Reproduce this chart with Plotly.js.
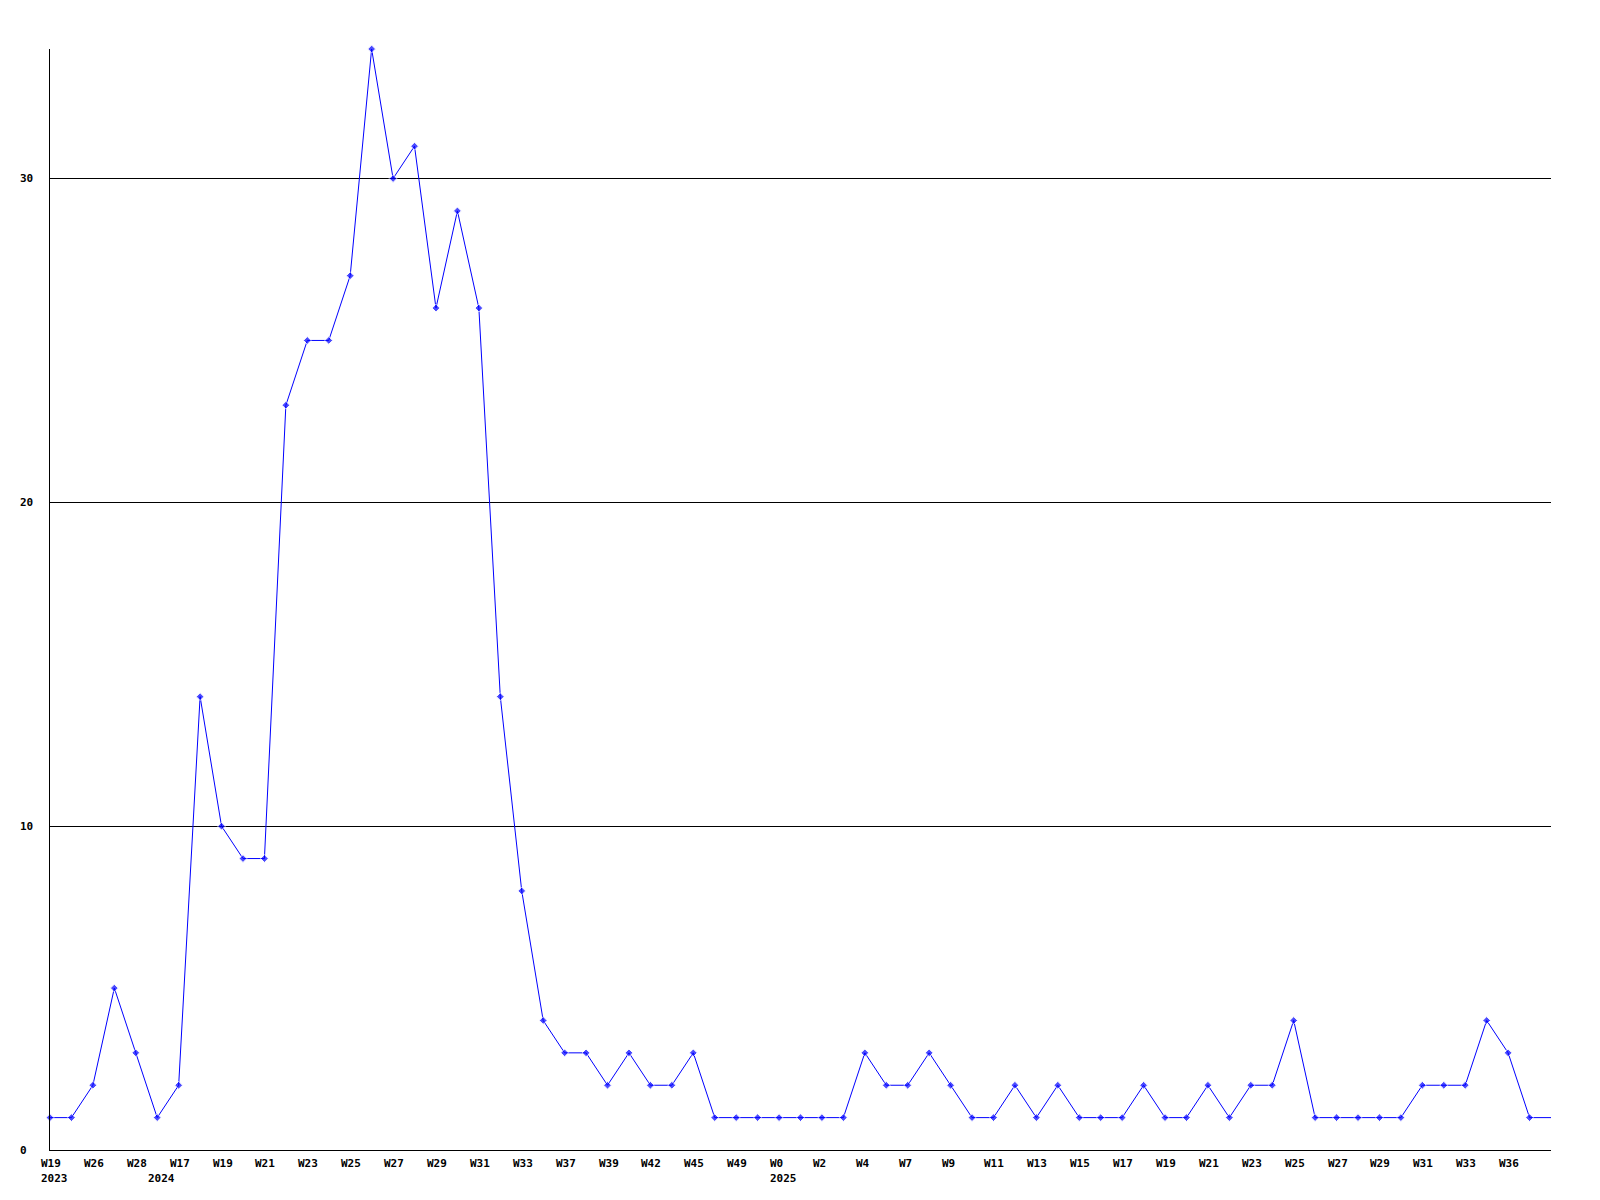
<!DOCTYPE html>
<html>
<head>
<meta charset="utf-8">
<script src="https://cdn.plot.ly/plotly-3.0.1.min.js"></script>
<style>
  html, body { margin: 0; padding: 0; background: #ffffff; }
  #chart { width: 1600px; height: 1200px; }
</style>
</head>
<body>
<div id="chart"></div>
<script>
// ---- data ----
const values = [
  1, 1, 2, 5, 3, 1, 2, 14, 10, 9,
  9, 23, 25, 25, 27, 34, 30, 31, 26, 29,
  26, 14, 8, 4, 3, 3, 2, 3, 2, 2,
  3, 1, 1, 1, 1, 1, 1, 1, 3, 2,
  2, 3, 2, 1, 1, 2, 1, 2, 1, 1,
  1, 2, 1, 1, 2, 1, 2, 2, 4, 1,
  1, 1, 1, 1, 2, 2, 2, 4, 3, 1,
  1
];
const weekTickLabels = [
  'W19', 'W26', 'W28', 'W17', 'W19', 'W21', 'W23', 'W25', 'W27', 'W29',
  'W31', 'W33', 'W37', 'W39', 'W42', 'W45', 'W49', 'W0', 'W2', 'W4',
  'W7', 'W9', 'W11', 'W13', 'W15', 'W17', 'W19', 'W21', 'W23', 'W25',
  'W27', 'W29', 'W31', 'W33', 'W36'
];
const tickStep = 2; // a week label under every second point
const yearLabels = ['2023', '2024', '2025'];
const yearPoints = [0, 5, 34];
const yTickValues = [0, 10, 20, 30];

// ---- chart ----
const xs = values.map((v, i) => i);
const markerSizes = values.map((v, i) => (i === values.length - 1 ? 0 : 6));
const font = { family: 'DejaVu Sans Mono, Liberation Mono, monospace', size: 11, color: '#000000' };

const annotations = [];
weekTickLabels.forEach((t, k) => {
  annotations.push({
    x: k * tickStep, xref: 'x', y: 0, yref: 'paper',
    text: '<b>' + t + '</b>', showarrow: false,
    xanchor: 'left', yanchor: 'middle', xshift: -11, yshift: -13,
    font: font
  });
});
yearLabels.forEach((t, k) => {
  annotations.push({
    x: yearPoints[k], xref: 'x', y: 0, yref: 'paper',
    text: '<b>' + t + '</b>', showarrow: false,
    xanchor: 'left', yanchor: 'middle', xshift: -11, yshift: -28,
    font: font
  });
});
yTickValues.forEach(v => {
  annotations.push({
    x: 0, xref: 'paper', y: v, yref: 'y',
    text: '<b>' + v + '</b>', showarrow: false,
    xanchor: 'left', yanchor: 'middle', xshift: -32,
    font: font
  });
});

const trace = {
  x: xs, y: values, type: 'scatter', mode: 'lines+markers',
  line: { color: '#0000ff', width: 1 },
  marker: { color: '#0000ff', size: markerSizes, symbol: 'diamond' },
  cliponaxis: false,
  hoverinfo: 'skip'
};

const layout = {
  width: 1600, height: 1200,
  paper_bgcolor: '#ffffff', plot_bgcolor: '#ffffff',
  margin: { l: 50, r: 49, t: 49, b: 50 },
  showlegend: false,
  xaxis: {
    range: [0, values.length - 1], showgrid: false, zeroline: false,
    showticklabels: false, ticks: '', showline: true, linecolor: '#000000', linewidth: 1
  },
  yaxis: {
    range: [0, 34], tickvals: yTickValues, showticklabels: false, ticks: '',
    showgrid: true, gridcolor: '#000000', gridwidth: 1, zeroline: false,
    showline: true, linecolor: '#000000', linewidth: 1
  },
  annotations: annotations
};

Plotly.newPlot('chart', [trace], layout, { staticPlot: true, displayModeBar: false });
</script>
</body>
</html>
